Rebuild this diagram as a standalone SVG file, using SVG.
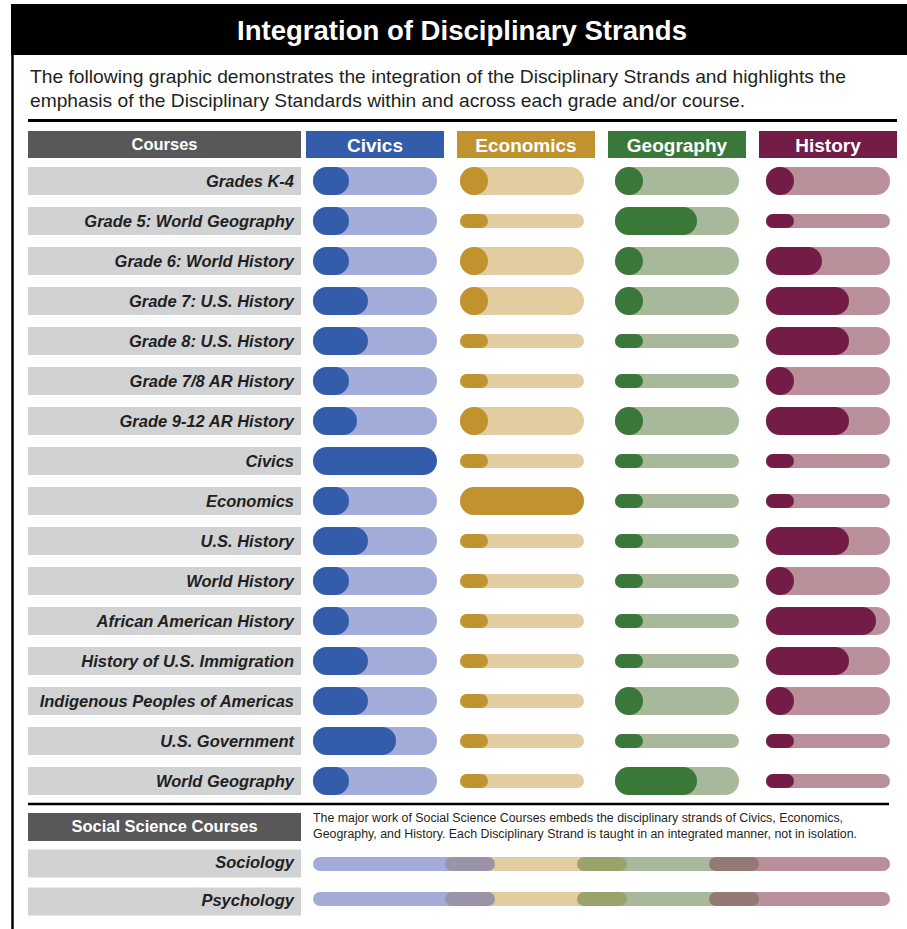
<svg xmlns="http://www.w3.org/2000/svg" width="907" height="929" viewBox="0 0 907 929">
<style>
.lbl{fill:#d1d2d4}
.lt{font-family:"Liberation Sans",Arial,sans-serif;font-size:16.5px;font-weight:bold;font-style:italic;fill:#231f20;text-anchor:end}
.ht{font-family:"Liberation Sans",Arial,sans-serif;font-weight:bold;fill:#ffffff;text-anchor:middle}
.body{font-family:"Liberation Sans",Arial,sans-serif;fill:#231f20}
.cl{fill:#a3abd8}.cd{fill:#335dab}
.el{fill:#e3cca0}.ed{fill:#c0932f}
.gl{fill:#a8b99b}.gd{fill:#3a783a}
.hl{fill:#b99099}.hd{fill:#731c47}
.rule{stroke:#000;fill:none}
</style>
<rect width="907" height="929" fill="#ffffff"/>
<g id="title">
<rect x="11" y="4" width="896" height="51" fill="#000"/>
<text class="ht" x="462" y="40" font-size="27.5" textLength="450" lengthAdjust="spacingAndGlyphs">Integration of Disciplinary Strands</text>
</g>
<line class="rule" x1="12.5" y1="4" x2="12.5" y2="929" stroke-width="2.5"/>
<g id="intro">
<text class="body" x="30" y="83" font-size="19" textLength="816" lengthAdjust="spacingAndGlyphs">The following graphic demonstrates the integration of the Disciplinary Strands and highlights the</text>
<text class="body" x="30" y="107" font-size="19" textLength="715" lengthAdjust="spacingAndGlyphs">emphasis of the Disciplinary Standards within and across each grade and/or course.</text>
</g>
<line class="rule" x1="28" y1="120.5" x2="897" y2="120.5" stroke-width="3"/>
<g id="header">
<rect x="28" y="131" width="273" height="27" fill="#58585a"/>
<text class="ht" x="164.5" y="149.5" font-size="16.5">Courses</text>
<rect x="306" y="131" width="138" height="27" class="cd"/>
<text class="ht" x="375" y="151.5" font-size="19">Civics</text>
<rect x="457" y="131" width="138" height="27" class="ed"/>
<text class="ht" x="526" y="151.5" font-size="19">Economics</text>
<rect x="608" y="131" width="138" height="27" class="gd"/>
<text class="ht" x="677" y="151.5" font-size="19">Geography</text>
<rect x="759" y="131" width="138" height="27" class="hd"/>
<text class="ht" x="828" y="151.5" font-size="19">History</text>
</g>

<g id="row-k4" transform="translate(0,181)">
<rect class="lbl" x="28" y="-14" width="273" height="28"/><text class="lt" x="294" y="6">Grades K-4</text>
<rect class="cl" x="313" y="-14" width="124" height="28" rx="14"/><rect class="cd" x="313" y="-14" width="36" height="28" rx="14"/>
<rect class="el" x="460" y="-14" width="124" height="28" rx="14"/><rect class="ed" x="460" y="-14" width="28" height="28" rx="14"/>
<rect class="gl" x="615" y="-14" width="124" height="28" rx="14"/><rect class="gd" x="615" y="-14" width="28" height="28" rx="14"/>
<rect class="hl" x="766" y="-14" width="124" height="28" rx="14"/><rect class="hd" x="766" y="-14" width="28" height="28" rx="14"/>
</g>
<g id="row-g5" transform="translate(0,221)">
<rect class="lbl" x="28" y="-14" width="273" height="28"/><text class="lt" x="294" y="6">Grade 5: World Geography</text>
<rect class="cl" x="313" y="-14" width="124" height="28" rx="14"/><rect class="cd" x="313" y="-14" width="36" height="28" rx="14"/>
<rect class="el" x="460" y="-7" width="124" height="14" rx="7"/><rect class="ed" x="460" y="-7" width="28" height="14" rx="7"/>
<rect class="gl" x="615" y="-14" width="124" height="28" rx="14"/><rect class="gd" x="615" y="-14" width="82" height="28" rx="14"/>
<rect class="hl" x="766" y="-7" width="124" height="14" rx="7"/><rect class="hd" x="766" y="-7" width="28" height="14" rx="7"/>
</g>
<g id="row-g6" transform="translate(0,261)">
<rect class="lbl" x="28" y="-14" width="273" height="28"/><text class="lt" x="294" y="6">Grade 6: World History</text>
<rect class="cl" x="313" y="-14" width="124" height="28" rx="14"/><rect class="cd" x="313" y="-14" width="36" height="28" rx="14"/>
<rect class="el" x="460" y="-14" width="124" height="28" rx="14"/><rect class="ed" x="460" y="-14" width="28" height="28" rx="14"/>
<rect class="gl" x="615" y="-14" width="124" height="28" rx="14"/><rect class="gd" x="615" y="-14" width="28" height="28" rx="14"/>
<rect class="hl" x="766" y="-14" width="124" height="28" rx="14"/><rect class="hd" x="766" y="-14" width="56" height="28" rx="14"/>
</g>
<g id="row-g7" transform="translate(0,301)">
<rect class="lbl" x="28" y="-14" width="273" height="28"/><text class="lt" x="294" y="6">Grade 7: U.S. History</text>
<rect class="cl" x="313" y="-14" width="124" height="28" rx="14"/><rect class="cd" x="313" y="-14" width="55" height="28" rx="14"/>
<rect class="el" x="460" y="-14" width="124" height="28" rx="14"/><rect class="ed" x="460" y="-14" width="28" height="28" rx="14"/>
<rect class="gl" x="615" y="-14" width="124" height="28" rx="14"/><rect class="gd" x="615" y="-14" width="28" height="28" rx="14"/>
<rect class="hl" x="766" y="-14" width="124" height="28" rx="14"/><rect class="hd" x="766" y="-14" width="83" height="28" rx="14"/>
</g>
<g id="row-g8" transform="translate(0,341)">
<rect class="lbl" x="28" y="-14" width="273" height="28"/><text class="lt" x="294" y="6">Grade 8: U.S. History</text>
<rect class="cl" x="313" y="-14" width="124" height="28" rx="14"/><rect class="cd" x="313" y="-14" width="55" height="28" rx="14"/>
<rect class="el" x="460" y="-7" width="124" height="14" rx="7"/><rect class="ed" x="460" y="-7" width="28" height="14" rx="7"/>
<rect class="gl" x="615" y="-7" width="124" height="14" rx="7"/><rect class="gd" x="615" y="-7" width="28" height="14" rx="7"/>
<rect class="hl" x="766" y="-14" width="124" height="28" rx="14"/><rect class="hd" x="766" y="-14" width="83" height="28" rx="14"/>
</g>
<g id="row-g78" transform="translate(0,381)">
<rect class="lbl" x="28" y="-14" width="273" height="28"/><text class="lt" x="294" y="6">Grade 7/8 AR History</text>
<rect class="cl" x="313" y="-14" width="124" height="28" rx="14"/><rect class="cd" x="313" y="-14" width="36" height="28" rx="14"/>
<rect class="el" x="460" y="-7" width="124" height="14" rx="7"/><rect class="ed" x="460" y="-7" width="28" height="14" rx="7"/>
<rect class="gl" x="615" y="-7" width="124" height="14" rx="7"/><rect class="gd" x="615" y="-7" width="28" height="14" rx="7"/>
<rect class="hl" x="766" y="-14" width="124" height="28" rx="14"/><rect class="hd" x="766" y="-14" width="28" height="28" rx="14"/>
</g>
<g id="row-g912" transform="translate(0,421)">
<rect class="lbl" x="28" y="-14" width="273" height="28"/><text class="lt" x="294" y="6">Grade 9-12 AR History</text>
<rect class="cl" x="313" y="-14" width="124" height="28" rx="14"/><rect class="cd" x="313" y="-14" width="44" height="28" rx="14"/>
<rect class="el" x="460" y="-14" width="124" height="28" rx="14"/><rect class="ed" x="460" y="-14" width="28" height="28" rx="14"/>
<rect class="gl" x="615" y="-14" width="124" height="28" rx="14"/><rect class="gd" x="615" y="-14" width="28" height="28" rx="14"/>
<rect class="hl" x="766" y="-14" width="124" height="28" rx="14"/><rect class="hd" x="766" y="-14" width="83" height="28" rx="14"/>
</g>
<g id="row-civics" transform="translate(0,461)">
<rect class="lbl" x="28" y="-14" width="273" height="28"/><text class="lt" x="294" y="6">Civics</text>
<rect class="cd" x="313" y="-14" width="124" height="28" rx="14"/>
<rect class="el" x="460" y="-7" width="124" height="14" rx="7"/><rect class="ed" x="460" y="-7" width="28" height="14" rx="7"/>
<rect class="gl" x="615" y="-7" width="124" height="14" rx="7"/><rect class="gd" x="615" y="-7" width="28" height="14" rx="7"/>
<rect class="hl" x="766" y="-7" width="124" height="14" rx="7"/><rect class="hd" x="766" y="-7" width="28" height="14" rx="7"/>
</g>
<g id="row-economics" transform="translate(0,501)">
<rect class="lbl" x="28" y="-14" width="273" height="28"/><text class="lt" x="294" y="6">Economics</text>
<rect class="cl" x="313" y="-14" width="124" height="28" rx="14"/><rect class="cd" x="313" y="-14" width="36" height="28" rx="14"/>
<rect class="ed" x="460" y="-14" width="124" height="28" rx="14"/>
<rect class="gl" x="615" y="-7" width="124" height="14" rx="7"/><rect class="gd" x="615" y="-7" width="28" height="14" rx="7"/>
<rect class="hl" x="766" y="-7" width="124" height="14" rx="7"/><rect class="hd" x="766" y="-7" width="28" height="14" rx="7"/>
</g>
<g id="row-ushistory" transform="translate(0,541)">
<rect class="lbl" x="28" y="-14" width="273" height="28"/><text class="lt" x="294" y="6">U.S. History</text>
<rect class="cl" x="313" y="-14" width="124" height="28" rx="14"/><rect class="cd" x="313" y="-14" width="55" height="28" rx="14"/>
<rect class="el" x="460" y="-7" width="124" height="14" rx="7"/><rect class="ed" x="460" y="-7" width="28" height="14" rx="7"/>
<rect class="gl" x="615" y="-7" width="124" height="14" rx="7"/><rect class="gd" x="615" y="-7" width="28" height="14" rx="7"/>
<rect class="hl" x="766" y="-14" width="124" height="28" rx="14"/><rect class="hd" x="766" y="-14" width="83" height="28" rx="14"/>
</g>
<g id="row-worldhistory" transform="translate(0,581)">
<rect class="lbl" x="28" y="-14" width="273" height="28"/><text class="lt" x="294" y="6">World History</text>
<rect class="cl" x="313" y="-14" width="124" height="28" rx="14"/><rect class="cd" x="313" y="-14" width="36" height="28" rx="14"/>
<rect class="el" x="460" y="-7" width="124" height="14" rx="7"/><rect class="ed" x="460" y="-7" width="28" height="14" rx="7"/>
<rect class="gl" x="615" y="-7" width="124" height="14" rx="7"/><rect class="gd" x="615" y="-7" width="28" height="14" rx="7"/>
<rect class="hl" x="766" y="-14" width="124" height="28" rx="14"/><rect class="hd" x="766" y="-14" width="28" height="28" rx="14"/>
</g>
<g id="row-aah" transform="translate(0,621)">
<rect class="lbl" x="28" y="-14" width="273" height="28"/><text class="lt" x="294" y="6">African American History</text>
<rect class="cl" x="313" y="-14" width="124" height="28" rx="14"/><rect class="cd" x="313" y="-14" width="36" height="28" rx="14"/>
<rect class="el" x="460" y="-7" width="124" height="14" rx="7"/><rect class="ed" x="460" y="-7" width="28" height="14" rx="7"/>
<rect class="gl" x="615" y="-7" width="124" height="14" rx="7"/><rect class="gd" x="615" y="-7" width="28" height="14" rx="7"/>
<rect class="hl" x="766" y="-14" width="124" height="28" rx="14"/><rect class="hd" x="766" y="-14" width="110" height="28" rx="14"/>
</g>
<g id="row-immigration" transform="translate(0,661)">
<rect class="lbl" x="28" y="-14" width="273" height="28"/><text class="lt" x="294" y="6">History of U.S. Immigration</text>
<rect class="cl" x="313" y="-14" width="124" height="28" rx="14"/><rect class="cd" x="313" y="-14" width="55" height="28" rx="14"/>
<rect class="el" x="460" y="-7" width="124" height="14" rx="7"/><rect class="ed" x="460" y="-7" width="28" height="14" rx="7"/>
<rect class="gl" x="615" y="-7" width="124" height="14" rx="7"/><rect class="gd" x="615" y="-7" width="28" height="14" rx="7"/>
<rect class="hl" x="766" y="-14" width="124" height="28" rx="14"/><rect class="hd" x="766" y="-14" width="83" height="28" rx="14"/>
</g>
<g id="row-indigenous" transform="translate(0,701)">
<rect class="lbl" x="28" y="-14" width="273" height="28"/><text class="lt" x="294" y="6">Indigenous Peoples of Americas</text>
<rect class="cl" x="313" y="-14" width="124" height="28" rx="14"/><rect class="cd" x="313" y="-14" width="55" height="28" rx="14"/>
<rect class="el" x="460" y="-7" width="124" height="14" rx="7"/><rect class="ed" x="460" y="-7" width="28" height="14" rx="7"/>
<rect class="gl" x="615" y="-14" width="124" height="28" rx="14"/><rect class="gd" x="615" y="-14" width="28" height="28" rx="14"/>
<rect class="hl" x="766" y="-14" width="124" height="28" rx="14"/><rect class="hd" x="766" y="-14" width="28" height="28" rx="14"/>
</g>
<g id="row-usgov" transform="translate(0,741)">
<rect class="lbl" x="28" y="-14" width="273" height="28"/><text class="lt" x="294" y="6">U.S. Government</text>
<rect class="cl" x="313" y="-14" width="124" height="28" rx="14"/><rect class="cd" x="313" y="-14" width="83" height="28" rx="14"/>
<rect class="el" x="460" y="-7" width="124" height="14" rx="7"/><rect class="ed" x="460" y="-7" width="28" height="14" rx="7"/>
<rect class="gl" x="615" y="-7" width="124" height="14" rx="7"/><rect class="gd" x="615" y="-7" width="28" height="14" rx="7"/>
<rect class="hl" x="766" y="-7" width="124" height="14" rx="7"/><rect class="hd" x="766" y="-7" width="28" height="14" rx="7"/>
</g>
<g id="row-worldgeo" transform="translate(0,781)">
<rect class="lbl" x="28" y="-14" width="273" height="28"/><text class="lt" x="294" y="6">World Geography</text>
<rect class="cl" x="313" y="-14" width="124" height="28" rx="14"/><rect class="cd" x="313" y="-14" width="36" height="28" rx="14"/>
<rect class="el" x="460" y="-7" width="124" height="14" rx="7"/><rect class="ed" x="460" y="-7" width="28" height="14" rx="7"/>
<rect class="gl" x="615" y="-14" width="124" height="28" rx="14"/><rect class="gd" x="615" y="-14" width="82" height="28" rx="14"/>
<rect class="hl" x="766" y="-7" width="124" height="14" rx="7"/><rect class="hd" x="766" y="-7" width="28" height="14" rx="7"/>
</g>

<line class="rule" x1="28" y1="804" x2="889" y2="804" stroke-width="2.5"/>
<g id="social-header">
<rect x="28" y="813" width="273" height="28" fill="#58585a"/>
<text class="ht" x="164.5" y="832" font-size="16.5">Social Science Courses</text>
<text class="body" x="313" y="822" font-size="12.5" textLength="530" lengthAdjust="spacingAndGlyphs">The major work of Social Science Courses embeds the disciplinary strands of Civics, Economics,</text>
<text class="body" x="313" y="837.5" font-size="12.5" textLength="544" lengthAdjust="spacingAndGlyphs">Geography, and History. Each Disciplinary Strand is taught in an integrated manner, not in isolation.</text>
</g>
<g id="row-sociology">
<rect class="lbl" x="28" y="849.5" width="273" height="28"/><text class="lt" x="294" y="868">Sociology</text>
<rect class="cl" x="313" y="857" width="170" height="14" rx="7"/>
<rect class="el" x="470" y="857" width="132" height="14"/>
<rect class="gl" x="602" y="857" width="132" height="14"/>
<rect class="hl" x="730" y="857" width="160" height="14" rx="7"/>
<rect x="445" y="857" width="50" height="14" rx="7" fill="#9b93a8"/>
<rect x="577" y="857" width="50" height="14" rx="7" fill="#9aa36c"/>
<rect x="709" y="857" width="50" height="14" rx="7" fill="#937873"/>
</g>
<g id="row-psychology">
<rect class="lbl" x="28" y="887.5" width="273" height="28"/><text class="lt" x="294" y="906">Psychology</text>
<rect class="cl" x="313" y="892" width="170" height="14" rx="7"/>
<rect class="el" x="470" y="892" width="132" height="14"/>
<rect class="gl" x="602" y="892" width="132" height="14"/>
<rect class="hl" x="730" y="892" width="160" height="14" rx="7"/>
<rect x="445" y="892" width="50" height="14" rx="7" fill="#9b93a8"/>
<rect x="577" y="892" width="50" height="14" rx="7" fill="#9aa36c"/>
<rect x="709" y="892" width="50" height="14" rx="7" fill="#937873"/>
</g>
</svg>
